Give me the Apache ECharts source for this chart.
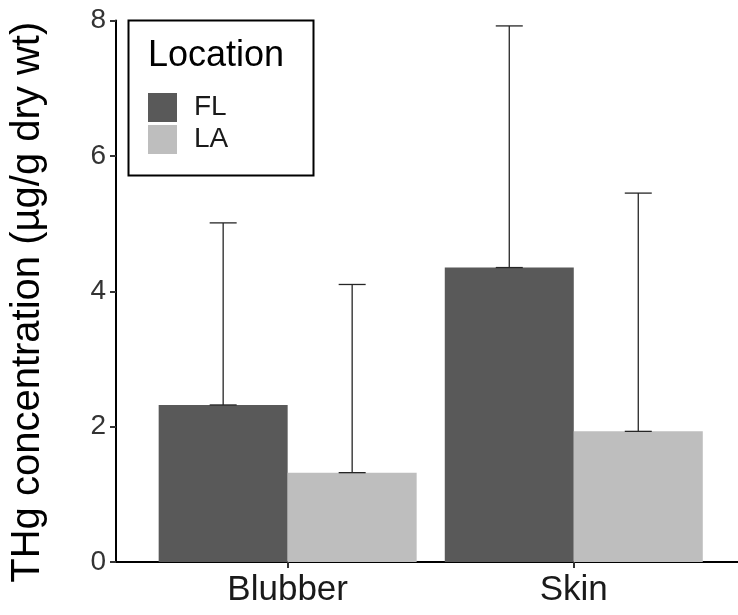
<!DOCTYPE html>
<html>
<head>
<meta charset="utf-8">
<script src="https://cdn.jsdelivr.net/npm/echarts@6/dist/echarts.min.js"></script>
<style>
  html, body { margin: 0; padding: 0; background: #fff; }
  #chart { width: 738px; height: 615px; }
</style>
</head>
<body>
<div id="chart"></div>
<script>
// categories sit at x = 1, 2 on a continuous axis (ggplot style expansion)
const categories = ['Blubber', 'Skin']
const catPos = [1, 2]
const locations = ['FL', 'LA']
const flMean = [2.32, 4.35]
const flUpper = [5.01, 7.92]
const laMean = [1.32, 1.93]
const laUpper = [4.10, 5.45]
const yTicks = [0, 2, 4, 6, 8]

const colors = ['#595959', '#bebebe']
const barW = 129

function barData(means) {
    return catPos.map((x, i) => [x, means[i]])
}
function errData(means, uppers) {
    return catPos.map((x, i) => [x, means[i], uppers[i]])
}

// error bar: vertical line mean -> upper, with a cap at each end
function errRender(offset) {
    return function (params, api) {
        const lo = api.coord([api.value(0), api.value(1)])
        const hi = api.coord([api.value(0), api.value(2)])
        const x = lo[0] + offset
        const half = 13.5
        const style = { stroke: '#262626', lineWidth: 1.3 }
        return {
            type: 'group',
            children: [
                { type: 'line', shape: { x1: x, y1: lo[1], x2: x, y2: hi[1] }, style },
                { type: 'line', shape: { x1: x - half, y1: hi[1], x2: x + half, y2: hi[1] }, style },
                { type: 'line', shape: { x1: x - half, y1: lo[1], x2: x + half, y2: lo[1] }, style }
            ]
        }
    }
}

const chart = echarts.init(document.getElementById('chart'))
chart.setOption({
    animation: false,
    textStyle: { fontFamily: 'Liberation Sans, Arial, sans-serif' },
    grid: {
        left: 114,
        right: 0,
        top: 20.5,
        bottom: 53,
        containLabel: false
    },
    xAxis: {
        type: 'value',
        min: 0.4,
        max: 2.574,
        splitLine: { show: false },
        axisLine: { show: true, onZero: false, lineStyle: { color: '#000', width: 2 } },
        axisTick: {
            show: true,
            customValues: catPos,
            length: 6,
            lineStyle: { color: '#333', width: 2 }
        },
        axisLabel: {
            customValues: catPos,
            margin: 11,
            fontSize: 35,
            color: '#1a1a1a',
            formatter: (v) => categories[catPos.indexOf(v)]
        }
    },
    yAxis: {
        type: 'value',
        min: yTicks[0],
        max: yTicks[yTicks.length - 1],
        interval: 2,
        name: 'THg concentration (µg/g dry wt)',
        nameLocation: 'middle',
        nameGap: 68,
        nameTextStyle: { fontSize: 40, color: '#000', padding: [0, 22, 0, 0] },
        splitLine: { show: false },
        axisLine: { show: true, lineStyle: { color: '#000', width: 2 } },
        axisTick: { show: true, length: 6, lineStyle: { color: '#333', width: 2 } },
        axisLabel: { fontSize: 28, color: '#333', margin: 10 }
    },
    legend: {
        data: locations,
        orient: 'vertical',
        left: 148,
        top: 93,
        padding: 0,
        itemWidth: 29,
        itemHeight: 29,
        itemGap: 3,
        icon: 'rect',
        selectedMode: false,
        textStyle: { fontSize: 28, color: '#1a1a1a', padding: [0, 0, 0, 12] }
    },
    graphic: [
        {
            type: 'rect',
            left: 126,
            top: 18,
            shape: { width: 185, height: 155 },
            style: { fill: 'none', stroke: '#000', lineWidth: 2 },
            z: 100
        },
        {
            type: 'text',
            left: 148,
            top: 38,
            style: { text: 'Location', fontSize: 36, fill: '#000', fontFamily: 'Liberation Sans, Arial, sans-serif' },
            z: 100
        }
    ],
    series: [
        {
            name: 'FL',
            type: 'bar',
            barWidth: barW,
            barGap: '0%',
            itemStyle: { color: colors[0] },
            data: barData(flMean)
        },
        {
            name: 'LA',
            type: 'bar',
            barWidth: barW,
            barGap: '0%',
            itemStyle: { color: colors[1] },
            data: barData(laMean)
        },
        {
            name: 'FL err',
            type: 'custom',
            renderItem: errRender(-barW / 2),
            encode: { x: 0, y: [1, 2] },
            z: 10,
            data: errData(flMean, flUpper)
        },
        {
            name: 'LA err',
            type: 'custom',
            renderItem: errRender(barW / 2),
            encode: { x: 0, y: [1, 2] },
            z: 10,
            data: errData(laMean, laUpper)
        }
    ]
})
</script>
</body>
</html>
